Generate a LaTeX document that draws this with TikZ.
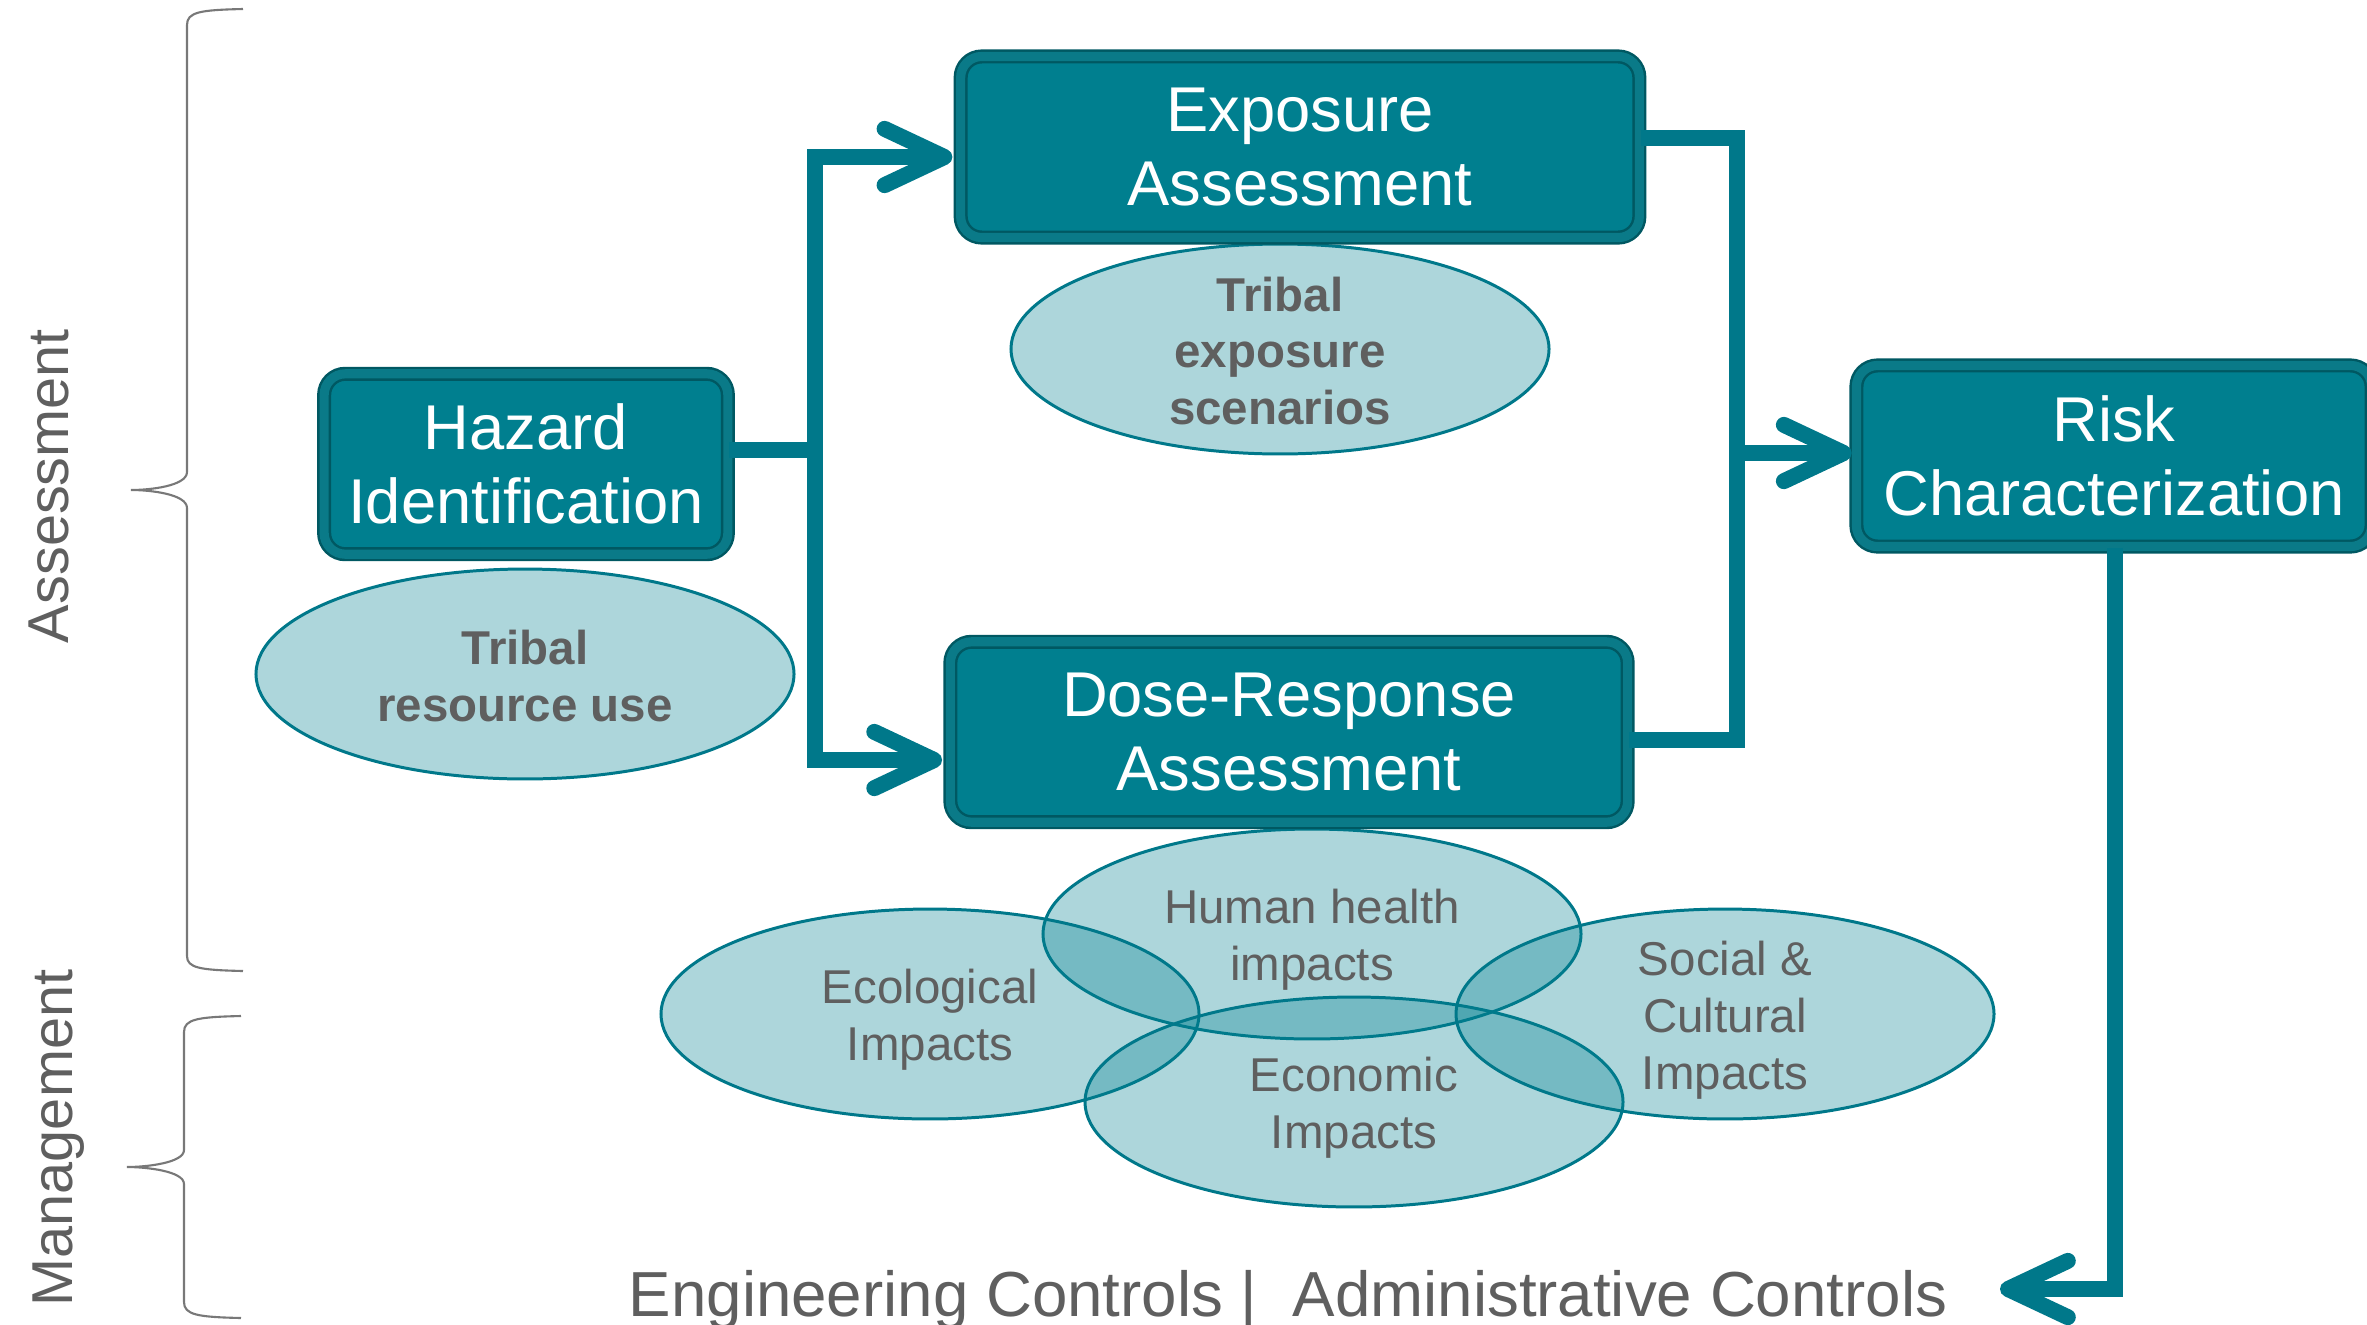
\documentclass[tikz,border=0pt]{standalone}
\usepackage{fontspec}
\setmainfont{Liberation Sans}
\usetikzlibrary{arrows.meta,shapes.geometric}
\definecolor{boxfill}{RGB}{0,127,143}
\definecolor{boxrim}{RGB}{0,88,98}
\definecolor{boxbevel}{RGB}{10,122,136}
\definecolor{conncol}{RGB}{0,120,138}
\definecolor{ellfill}{RGB}{0,128,144}
\definecolor{txtgray}{RGB}{95,95,95}
\definecolor{bracegray}{RGB}{120,120,120}
\begin{document}
\begin{tikzpicture}[x=0.01cm,y=-0.01cm,
  stepbox/.style={rectangle, rounded corners=6pt, fill=boxfill, draw=boxrim,
    double=boxbevel, line width=0.7pt, double distance=2.6pt,
    text=white, align=center, inner sep=0pt,
    font=\fontsize{18}{21}\selectfont},
  bubble/.style={ellipse, minimum width=153pt, minimum height=59.7pt, inner sep=0pt,
    fill=ellfill, fill opacity=0.32, draw=conncol, draw opacity=1,
    line width=0.85pt},
  bubbletext/.style={text=txtgray, align=center, inner sep=0pt,
    font=\fontsize{13.5}{16.2}\selectfont},
  tribaltext/.style={bubbletext, font=\fontsize{13.5}{16.2}\selectfont\bfseries},
  link/.style={draw=conncol, line width=4.55pt},
  tipped/.style={-{Straight Barb[length=17pt,width=16pt,round]}},
  sidelabel/.style={rotate=90, anchor=base, text=txtgray, inner sep=0pt,
    font=\fontsize{16.4}{19}\selectfont},
  brace/.style={draw=bracegray, line width=0.6pt}]
\useasboundingbox (0,0) rectangle (2367,1324);
\clip (0,0) rectangle (2367,1324);

% side braces and labels
\draw[brace] (243,9) .. controls (200,10) and (187,12) .. (187,25) -- (187,472)
  .. controls (187,486) and (150,490) .. (131,490)
  .. controls (150,490) and (187,494) .. (187,508) -- (187,956)
  .. controls (187,968) and (200,970) .. (243,971);
\draw[brace] (241,1016) .. controls (198,1017) and (184,1019) .. (184,1032) -- (184,1150)
  .. controls (184,1163) and (146,1167) .. (127,1167)
  .. controls (146,1167) and (184,1171) .. (184,1184) -- (184,1302)
  .. controls (184,1315) and (198,1317) .. (241,1318);
\node[sidelabel] (assess) at (68,486) {Assessment};
\node[sidelabel] (manage) at (72,1138) {Management};

% ellipses
\node[bubble] (te) at (1280,349) {};
\node[bubble] (tr) at (525,674) {};
\node[bubble] (hh) at (1312,934) {};
\node[bubble] (eco) at (930,1014) {};
\node[bubble] (econ) at (1354,1102) {};
\node[bubble] (soc) at (1725,1014) {};
\node[tribaltext] (tet) at (1280,351) {Tribal\\exposure\\scenarios};
\node[tribaltext] (trt) at (525,676) {Tribal\\resource use};
\node[bubbletext] (hht) at (1312,940) {Human health\\impacts};
\node[bubbletext] (ecot) at (930,1020) {Ecological\\Impacts};
\node[bubbletext] (econt) at (1354,1108) {Economic\\Impacts};
\node[bubbletext] (soct) at (1725,1020) {Social \&\\Cultural\\Impacts};

% boxes
\node[stepbox, minimum width=114.8pt, minimum height=51.3pt] (haz) at (526,464) {Hazard\\Identification};
\node[stepbox, minimum width=193pt, minimum height=51.5pt] (exp) at (1300,147) {Exposure\\Assessment};
\node[stepbox, minimum width=192.6pt, minimum height=51.3pt] (dose) at (1289,732) {Dose-Response\\Assessment};
\node[stepbox, minimum width=146.5pt, minimum height=51.5pt] (risk) at (2114,456) {Risk\\Characterization};

% connectors
\coordinate (j1) at (815,450);
\coordinate (j1t) at (815,157);
\coordinate (j1b) at (815,760);
\coordinate (j2t) at (1737,138);
\coordinate (j2) at (1737,453);
\coordinate (j2b) at (1737,740);
\coordinate (j3) at (2115,1289);
\coordinate (jend) at (2000,1289);

\draw[link] (haz.east |- j1) -- (j1);
\draw[link, tipped] (j1) -- (j1t) -- ([xshift=-2pt]exp.west |- j1t);
\draw[link, tipped] (j1) -- (j1b) -- ([xshift=-2pt]dose.west |- j1b);
\draw[link] (exp.east |- j2t) -- (j2t) -- (j2b) -- (dose.east |- j2b);
\draw[link, tipped] (j2) -- ([xshift=-1pt]risk.west |- j2);
\draw[link, tipped] (risk.south -| j3) -- (j3) -- (jend);

% bottom text
\node[anchor=base, text=txtgray, inner sep=0pt, font=\fontsize{18.1}{21}\selectfont] (ctrl) at (1288,1316) {Engineering Controls |~ Administrative Controls};
\end{tikzpicture}
\end{document}
